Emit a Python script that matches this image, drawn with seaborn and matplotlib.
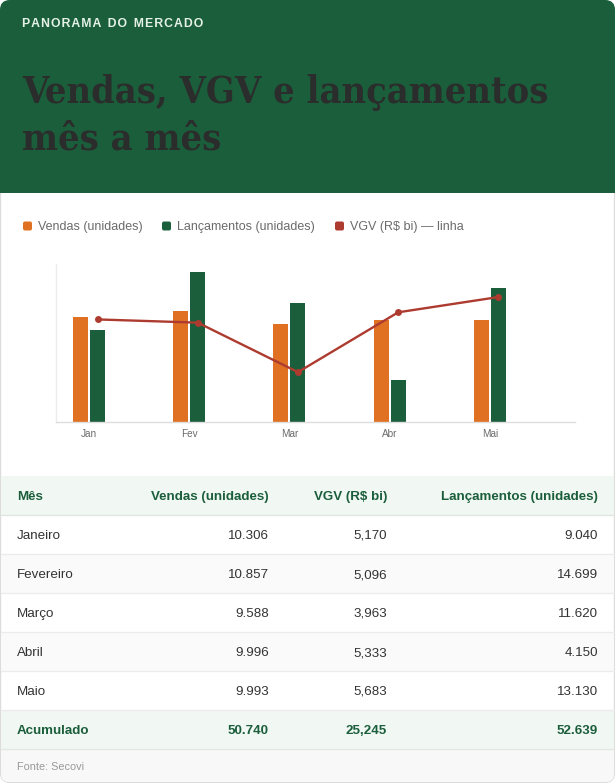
import numpy as np
import pandas as pd
import matplotlib
matplotlib.use("Agg")
import matplotlib.pyplot as plt
from matplotlib.patches import FancyBboxPatch, Rectangle
import seaborn as sns

# dados do painel
meses = ["Janeiro", "Fevereiro", "Março", "Abril", "Maio"]
abrev = ["Jan", "Fev", "Mar", "Abr", "Mai"]
vendas = [10306, 10857, 9588, 9996, 9993]
vgv = [5.170, 5.096, 3.963, 5.333, 5.683]
lancamentos = [9040, 14699, 11620, 4150, 13130]

series_nomes = ["Vendas (unidades)", "Lançamentos (unidades)", "VGV (R$ bi) — linha"]
colunas = ["Mês", "Vendas (unidades)", "VGV (R$ bi)", "Lançamentos (unidades)"]
fonte = "Fonte: Secovi"

LARANJA = "#E07022"
VERDE = "#1B5E3B"
VERMELHO = "#AD3B2F"

sns.set_theme(style="white")
plt.rcParams["font.family"] = ["Liberation Sans", "DejaVu Sans"]

W, H = 615, 783
fig = plt.figure(figsize=(W / 100, H / 100), dpi=100)
fig.patch.set_facecolor("white")

# camada de fundo em pixels
bg = fig.add_axes([0, 0, 1, 1])
bg.set_xlim(0, W)
bg.set_ylim(H, 0)
bg.axis("off")

bg.add_patch(FancyBboxPatch((0.5, 0.5), W - 1, H - 1, boxstyle="round,pad=0,rounding_size=10",
                            fc="white", ec="#dcdcdc", lw=1))
bg.add_patch(FancyBboxPatch((0, 0), W, 193, boxstyle="round,pad=0,rounding_size=10",
                            fc=VERDE, ec="none"))
bg.add_patch(Rectangle((0, 100), W, 93, fc=VERDE, ec="none"))

kicker = "  ".join("\u200a".join(p) for p in "PANORAMA DO MERCADO".split())
bg.text(22, 27, kicker, color="#E3F1E7", fontsize=8.8, fontweight="bold",
        va="baseline", ha="left")
titulo_kw = dict(color="#2A2D2B", fontsize=27.2, fontweight="bold", family="DejaVu Serif",
                 fontstretch="condensed", va="baseline", ha="left")
bg.text(22, 103, "Vendas, VGV e lançamentos", **titulo_kw)
bg.text(22, 150, "mês a mês", **titulo_kw)

# legenda manual
leg_x = [22, 161, 334]
for x0, nome, cor in zip(leg_x, series_nomes, [LARANJA, VERDE, VERMELHO]):
    bg.add_patch(FancyBboxPatch((x0 + 1, 221.5), 9, 9, boxstyle="round,pad=0,rounding_size=2",
                                fc=cor, ec="none"))
    bg.text(x0 + 16, 230, nome, color="#6b6b6b", fontsize=9, va="baseline", ha="left")

# tabela
y_top = 476
row_h = 39
bg.add_patch(Rectangle((1, y_top), W - 2, row_h, fc="#F1F7F3", ec="none"))
bg.plot([1, W - 1], [y_top + row_h, y_top + row_h], color="#dfe6e1", lw=1)
col_x = [17, 269, 387, 598]
col_ha = ["left", "right", "right", "right"]
base = row_h / 2 + 4.5
for x0, txt, ha in zip(col_x, colunas, col_ha):
    bg.text(x0, y_top + base, txt, color=VERDE, fontsize=9.6, fontweight="bold",
            va="baseline", ha=ha)


def fmt_int(v):
    return f"{v:,}".replace(",", ".")


def fmt_dec(v):
    return f"{v:.3f}".replace(".", ",")


for i, mes in enumerate(meses):
    y0 = y_top + row_h * (i + 1)
    if i % 2 == 1:
        bg.add_patch(Rectangle((1, y0), W - 2, row_h, fc="#FAFAFA", ec="none"))
    bg.plot([1, W - 1], [y0 + row_h, y0 + row_h], color="#ececec", lw=1)
    vals = [mes, fmt_int(vendas[i]), fmt_dec(vgv[i]), fmt_int(lancamentos[i])]
    for x0, txt, ha in zip(col_x, vals, col_ha):
        bg.text(x0, y0 + base, txt, color="#333333", fontsize=9.6, va="baseline", ha=ha)

y0 = y_top + row_h * 6
bg.add_patch(Rectangle((1, y0), W - 2, row_h, fc="#F1F7F3", ec="none"))
bg.plot([1, W - 1], [y0 + row_h, y0 + row_h], color="#e4e8e5", lw=1)
tot = ["Acumulado", fmt_int(sum(vendas)), fmt_dec(sum(vgv)), fmt_int(sum(lancamentos))]
for x0, txt, ha in zip(col_x, tot, col_ha):
    bg.text(x0, y0 + base, txt, color=VERDE, fontsize=9.6, fontweight="bold",
            va="baseline", ha=ha)

bg.add_patch(FancyBboxPatch((1, y0 + row_h + 1), W - 2, H - (y0 + row_h) - 2,
                            boxstyle="round,pad=0,rounding_size=8", fc="#F8F8F8", ec="none"))
bg.add_patch(Rectangle((1, y0 + row_h + 1), W - 2, 10, fc="#F8F8F8", ec="none"))
bg.text(17, 770, fonte, color="#999999", fontsize=7.8, va="baseline", ha="left")

# gráfico
left, right, top, bottom = 56, 575, 264, 422
ax = fig.add_axes([left / W, 1 - bottom / H, (right - left) / W, (bottom - top) / H])
ax.patch.set_alpha(0)

df = pd.DataFrame({
    "mes": abrev * 2,
    "valor": vendas + lancamentos,
    "serie": [series_nomes[0]] * 5 + [series_nomes[1]] * 5,
})
sns.barplot(data=df, x="mes", y="valor", hue="serie", ax=ax, width=0.34, gap=0.12,
            palette={series_nomes[0]: LARANJA, series_nomes[1]: VERDE},
            saturation=1, legend=False, edgecolor="none")
ax.set_ylim(0, 15480)
ax.set_xlabel("")
ax.set_ylabel("")
ax.set_yticks([])
ax.tick_params(axis="x", length=0, pad=5, labelsize=7.2, labelcolor="#6b6b6b")
for s in ["top", "right"]:
    ax.spines[s].set_visible(False)
ax.spines["left"].set_color("#ececec")
ax.spines["bottom"].set_color("#dddddd")
ax.spines["left"].set_linewidth(1)
ax.spines["bottom"].set_linewidth(1)

ax2 = ax.twinx()
sns.lineplot(x=np.arange(len(abrev)) + 0.085, y=vgv, ax=ax2, color=VERMELHO, lw=1.7,
             marker="o", markersize=5, markeredgewidth=0)
ax2.set_ylim(2.82, 6.44)
ax2.set_yticks([])
for s in ax2.spines.values():
    s.set_visible(False)
ax.set_xlim(-0.33, 4.85)

fig.savefig("out.png", dpi=100)
